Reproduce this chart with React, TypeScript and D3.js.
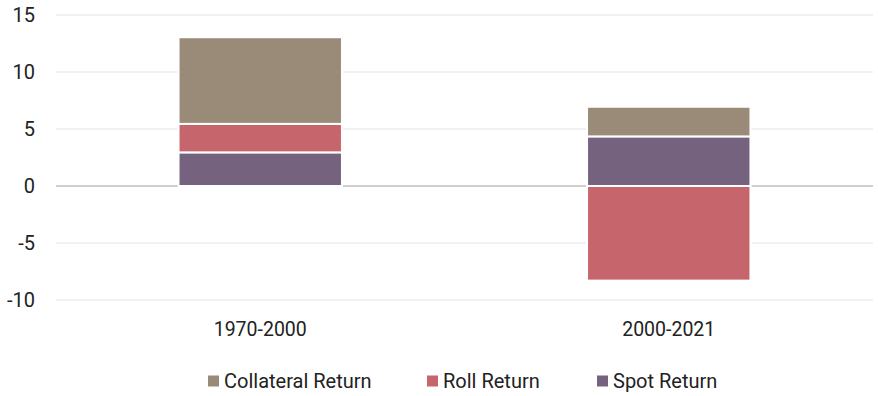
import React from 'react';
import * as d3 from 'd3';

const categories = ['1970-2000', '2000-2021'];
const seriesNames = ['Spot Return', 'Roll Return', 'Collateral Return'];
const spotReturn = [2.95, 4.35];
const rollReturn = [2.5, -8.3];
const collateralReturn = [7.6, 2.6];
const yTicks = [-10, -5, 0, 5, 10, 15];
const legendOrder = ['Collateral Return', 'Roll Return', 'Spot Return'];

const colors: Record<string, string> = {
  'Spot Return': '#75627E',
  'Roll Return': '#C6656B',
  'Collateral Return': '#9A8B79',
};

const width = 878;
const height = 396;
const margin = { top: 15, right: 5, bottom: 96, left: 56 };
const font = 'Roboto, sans-serif';

export default function App() {
  const x = d3.scaleBand()
    .domain(categories)
    .range([margin.left, width - margin.right])
    .paddingInner(0.6)
    .paddingOuter(0.3);

  const y = d3.scaleLinear()
    .domain([-10, 15])
    .range([height - margin.bottom, margin.top]);

  const rows = categories.map((c, i) => ({
    category: c,
    'Spot Return': spotReturn[i],
    'Roll Return': rollReturn[i],
    'Collateral Return': collateralReturn[i],
  }));

  const stacked = d3.stack<any>()
    .keys(seriesNames)
    .offset(d3.stackOffsetDiverging)(rows);

  const legendX = [208, 427, 597];

  return (
    <svg width={width} height={height} style={{ position: 'absolute', left: 0, top: 0 }}>
      <rect width={width} height={height} fill="#ffffff" />
      {yTicks.map(t => (
        <g key={t}>
          <line x1={margin.left} x2={width - margin.right} y1={y(t)} y2={y(t)}
            stroke={t === 0 ? '#a0a0a0' : '#dde5ec'} strokeWidth={1} />
          <text x={35} y={y(t)} dy="0.36em" textAnchor="end" fontFamily={font}
            fontSize={20} fill="#222">{t}</text>
        </g>
      ))}
      {stacked.map(s => (
        <g key={s.key} fill={colors[s.key]}>
          {s.map((d, i) => (
            <rect key={i} x={x(categories[i])} width={x.bandwidth()}
              y={y(Math.max(d[0], d[1]))}
              height={Math.abs(y(d[0]) - y(d[1]))}
              stroke="#ffffff" strokeWidth={2} />
          ))}
        </g>
      ))}
      {categories.map(c => (
        <text key={c} x={(x(c) as number) + x.bandwidth() / 2} y={336}
          textAnchor="middle" fontFamily={font} fontSize={19.5} fill="#222">{c}</text>
      ))}
      {legendOrder.map((n, i) => (
        <g key={n}>
          <rect x={legendX[i]} y={375.5} width={11} height={11} fill={colors[n]} />
          <text x={legendX[i] + 16} y={388} fontFamily={font} fontSize={20} fill="#222">{n}</text>
        </g>
      ))}
    </svg>
  );
}
